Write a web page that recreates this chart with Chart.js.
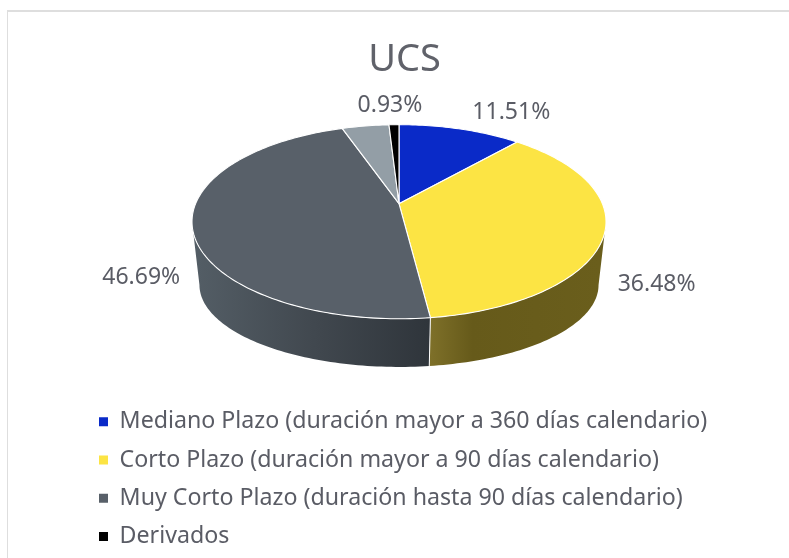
<!DOCTYPE html>
<html lang="es">
<head>
  <meta charset="UTF-8">
  <title>UCS</title>
  <script src="https://cdn.jsdelivr.net/npm/chart.js"></script>
  <style>
    html, body { margin: 0; padding: 0; background: #fff; }
    #frame {
      position: absolute;
      left: 7px;
      top: 10px;
      right: 0;
      bottom: 0;
      border-top: 2px solid #dedede;
      border-left: 1.5px solid #dedede;
    }
    #chart { position: absolute; left: 0; top: 0; }
  </style>
</head>
<body>
  <div id="frame"></div>
  <canvas id="chart" width="789" height="558"></canvas>

  <script>
    const categories = [
      "Mediano Plazo (duración mayor a 360 días calendario)",
      "Corto Plazo (duración mayor a 90 días calendario)",
      "Muy Corto Plazo (duración hasta 90 días calendario)",
      "",
      "Derivados"
    ];
    const values = [11.51, 36.48, 46.69, 4.39, 0.93];
    const valueLabels = ["11.51%", "36.48%", "46.69%", "", "0.93%"];
    const topColors = ["#0a2ac8", "#fce444", "#586069", "#939ea6", "#000000"];
    const textColor = "#5a5c65";
    const fontName = "'Noto Sans', sans-serif";

    // how far each value label sits from the rim point of its slice
    const labelOffsets = [[51, -17], [52, 52], [-51, 51], [0, 0], [-4, -19]];

    // perspective of the disc
    const tilt = 0.1857;
    const squash = 93.7 / 207;
    const widthFactor = 203.4 / 207;
    const centerShiftX = -5.5;  // title is centred a little right of the pie
    const apexShift = -39.2;
    const depth = 66;           // apex of lower disc below apex of upper disc
    const lowerScaleX = 0.964;
    const lowerScaleY = 0.845;
    const wallEdge = Math.asin(tilt);  // angle where the rim is widest, wall stops there

    function project(arc, angle, scaleX, scaleY, drop) {
      const u = Math.cos(angle), v = Math.sin(angle);
      const w = 1 - tilt * v;
      const R = arc.outerRadius;
      return {
        x: arc.x + centerShiftX + scaleX * R * widthFactor * u / w,
        y: arc.y + apexShift + drop + scaleY * R * squash * v / w
      };
    }

    function wallFill(ctx, index) {
      let g = null;
      if (index === 1) {
        g = ctx.createLinearGradient(430, 0, 600, 0);
        g.addColorStop(0, "#7e7029");
        g.addColorStop(0.25, "#665a1a");
        g.addColorStop(1, "#6a5e1c");
      } else if (index === 2) {
        g = ctx.createLinearGradient(198, 0, 430, 0);
        g.addColorStop(0, "#535d65");
        g.addColorStop(0.5, "#41484f");
        g.addColorStop(1, "#2f353b");
      }
      return g;
    }

    const pie3d = {
      id: "pie3d",
      beforeDatasetsDraw(chart) {
        const ctx = chart.ctx;
        const arcs = chart.getDatasetMeta(0).data;
        ctx.save();

        // side wall, only the two front slices ever show
        arcs.forEach((arc, i) => {
          const fill = wallFill(ctx, i);
          if (!fill) return;
          const a0 = Math.max(arc.startAngle, wallEdge);
          const a1 = Math.min(arc.endAngle, Math.PI - wallEdge);
          const steps = Math.ceil((a1 - a0) / 0.02);
          ctx.beginPath();
          for (let s = 0; s <= steps; s++) {
            const p = project(arc, a0 + (a1 - a0) * s / steps, 1, 1, 0);
            if (s === 0) ctx.moveTo(p.x, p.y);
            else ctx.lineTo(p.x, p.y);
          }
          for (let s = steps; s >= 0; s--) {
            const q = project(arc, a0 + (a1 - a0) * s / steps, lowerScaleX, lowerScaleY, depth);
            ctx.lineTo(q.x, q.y);
          }
          ctx.closePath();
          ctx.fillStyle = fill;
          ctx.fill();
        });

        // white seam between the two walls
        const seam = arcs[1].endAngle;
        const s0 = project(arcs[1], seam, 1, 1, 0);
        const s1 = project(arcs[1], seam, lowerScaleX, lowerScaleY, depth);
        ctx.strokeStyle = "#ffffff";
        ctx.lineWidth = 1;
        ctx.beginPath();
        ctx.moveTo(s0.x, s0.y);
        ctx.lineTo(s1.x, s1.y);
        ctx.stroke();

        // top of the pie
        arcs.forEach((arc, i) => {
          const steps = Math.max(4, Math.ceil((arc.endAngle - arc.startAngle) / 0.02));
          const apex = project(arc, 0, 0, 0, 0);
          ctx.beginPath();
          ctx.moveTo(apex.x, apex.y);
          for (let s = 0; s <= steps; s++) {
            const p = project(arc, arc.startAngle + (arc.endAngle - arc.startAngle) * s / steps, 1, 1, 0);
            ctx.lineTo(p.x, p.y);
          }
          ctx.closePath();
          ctx.fillStyle = topColors[i];
          ctx.fill();
          ctx.strokeStyle = "#ffffff";
          ctx.lineWidth = 1.1;
          ctx.lineJoin = "round";
          ctx.stroke();
        });

        // value labels
        ctx.fillStyle = textColor;
        ctx.font = "23px " + fontName;
        ctx.textAlign = "center";
        ctx.textBaseline = "middle";
        arcs.forEach((arc, i) => {
          if (!valueLabels[i]) return;
          const rim = project(arc, (arc.startAngle + arc.endAngle) / 2, 1, 1, 0);
          ctx.fillText(valueLabels[i], rim.x + labelOffsets[i][0], rim.y + labelOffsets[i][1]);
        });

        ctx.restore();
        return false;
      }
    };

    new Chart(document.getElementById("chart"), {
      type: "pie",
      plugins: [pie3d],
      data: {
        labels: categories,
        datasets: [{ data: values, backgroundColor: topColors, borderWidth: 0 }]
      },
      options: {
        responsive: false,
        animation: false,
        radius: 207,
        layout: { padding: { left: 84, right: 64, top: 37, bottom: 0 } },
        plugins: {
          tooltip: { enabled: false },
          title: {
            display: true,
            text: "UCS",
            color: "#60626a",
            font: { family: fontName, size: 38, weight: "normal" },
            padding: { top: 0, bottom: 8 }
          },
          legend: {
            position: "bottom",
            align: "start",
            labels: {
              color: textColor,
              font: { family: fontName, size: 23.2 },
              boxWidth: 9,
              boxHeight: 9,
              padding: 15,
              filter: (item) => item.text !== ""
            }
          }
        }
      }
    });
  </script>
</body>
</html>
